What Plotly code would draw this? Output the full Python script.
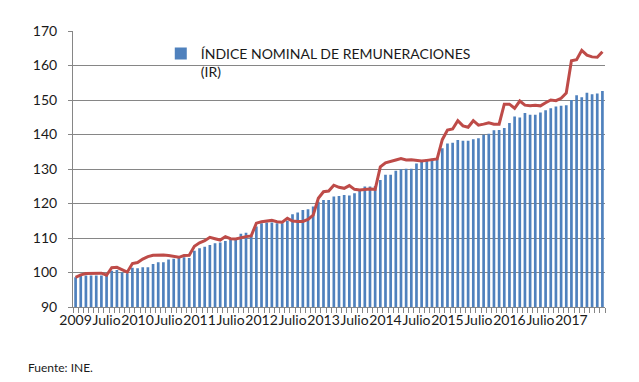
import plotly.graph_objects as go

# Monthly categories: Jan 2009 .. Jul 2017
years = list(range(2009, 2018))
months = [f"{y}-{m:02d}" for y in years for m in range(1, 13)][:103]

# Índice nominal de remuneraciones (bars)
ir_values = [
    98.6, 99.0, 99.1, 99.1, 99.1, 99.1, 99.0, 100.5, 100.7, 100.0,
    99.8, 101.4, 101.2, 101.5, 101.5, 102.5, 103.0, 103.0, 103.8, 104.0,
    104.4, 104.4, 104.2, 106.3, 107.0, 107.5, 108.0, 108.5, 108.7, 109.1,
    109.4, 109.4, 111.2, 111.5, 110.6, 113.3, 114.3, 114.5, 114.5, 114.3,
    114.3, 115.0, 116.9, 117.4, 118.1, 118.3, 119.1, 120.5, 121.0, 121.0,
    122.0, 122.2, 122.5, 122.3, 123.0, 123.8, 124.9, 124.9, 125.1, 126.8,
    128.3, 128.3, 129.5, 129.9, 130.1, 130.1, 131.6, 132.1, 132.8, 133.0,
    133.1, 136.0, 137.4, 137.6, 138.4, 138.2, 138.2, 138.6, 138.9, 139.9,
    140.2, 141.2, 141.3, 141.9, 143.3, 145.2, 144.9, 146.2, 145.7, 145.7,
    146.4, 147.0, 147.6, 148.1, 148.3, 148.5, 150.0, 151.4, 150.8, 152.1,
    151.7, 151.9, 152.6,
]

# Second series (red line)
line_values = [
    98.6, 99.3, 99.7, 99.8, 99.8, 99.8, 99.2, 101.4, 101.5, 100.9,
    100.1, 102.6, 102.9, 103.9, 104.6, 105.0, 105.1, 105.1, 104.9, 104.6,
    104.4, 104.9, 105.0, 107.6, 108.6, 109.2, 110.2, 109.8, 109.4, 110.4,
    109.8, 109.7, 110.1, 110.4, 110.6, 114.3, 114.7, 114.9, 115.1, 114.7,
    114.6, 115.7, 114.9, 114.8, 114.8, 115.4, 116.6, 121.5, 123.4, 123.6,
    125.3, 124.7, 124.4, 125.2, 124.1, 123.9, 124.1, 124.2, 124.1, 130.6,
    131.8, 132.1, 132.6, 133.0, 132.6, 132.7, 132.6, 132.3, 132.5, 132.6,
    132.9, 138.5, 141.3, 141.6, 144.0, 142.5, 142.1, 144.0, 142.7, 143.0,
    143.4, 143.0, 143.0, 148.8, 148.8, 147.6, 149.7, 148.5, 148.3, 148.5,
    148.3, 149.2, 150.0, 149.8, 150.5, 152.0, 161.4, 161.7, 164.4, 163.0,
    162.5, 162.4, 164.0,
]

# Tick labels: year at January, "Julio" at July (last July not labelled)
tick_text = []
for i, c in enumerate(months):
    y, m = c.split("-")
    if m == "01":
        tick_text.append(y)
    elif m == "07" and i < len(months) - 1:
        tick_text.append("Julio")
    else:
        tick_text.append("")

FONT = "Lato, 'Open Sans', sans-serif"
GRID = "#868686"
TXT = "#1a1a1a"

fig = go.Figure()
fig.add_trace(go.Bar(
    x=months, y=ir_values,
    name="ÍNDICE NOMINAL DE REMUNERACIONES<br>(IR)",
    marker=dict(color="#4F81BD", line=dict(width=0)),
))
fig.add_trace(go.Scatter(
    x=months, y=line_values, mode="lines",
    line=dict(color="#BE4B48", width=3),
    showlegend=False,
))

fig.update_layout(
    width=631, height=374,
    margin=dict(l=65, r=34, t=23, b=75),
    paper_bgcolor="white", plot_bgcolor="white",
    bargap=0.48,
    font=dict(family=FONT, size=14, color=TXT),
    legend=dict(
        x=0.165, y=0.975, xanchor="left", yanchor="top",
        bgcolor="rgba(0,0,0,0)", valign="top",
        font=dict(family=FONT, size=14, color=TXT),
    ),
    xaxis=dict(
        type="category",
        tickmode="array", tickvals=months, ticktext=tick_text,
        tickson="boundaries", ticks="outside", ticklen=5, tickcolor=GRID,
        tickangle=0,
        showline=True, linecolor=GRID, linewidth=1,
        showgrid=False,
        tickfont=dict(family=FONT, size=14, color=TXT),
    ),
    yaxis=dict(
        range=[90, 170], dtick=10, tick0=90,
        showgrid=True, gridcolor=GRID, gridwidth=1,
        showline=True, linecolor=GRID, linewidth=1,
        ticks="outside", ticklen=4, tickcolor=GRID,
        ticklabelstandoff=8,
        zeroline=False,
        tickfont=dict(family=FONT, size=14, color=TXT),
    ),
    annotations=[dict(
        text="Fuente: INE.", xref="paper", yref="paper",
        x=-0.088, y=-0.221, xanchor="left", yanchor="middle",
        showarrow=False, font=dict(family=FONT, size=12, color=TXT),
    )],
)

fig.write_html("out.html")
